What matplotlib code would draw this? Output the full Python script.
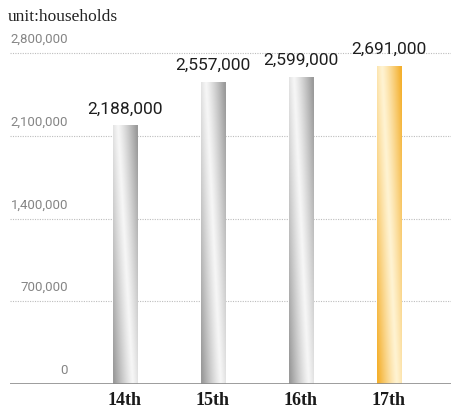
import numpy as np
import matplotlib
matplotlib.use("Agg")
import matplotlib.pyplot as plt
from matplotlib.colors import LinearSegmentedColormap
from matplotlib.ticker import FuncFormatter

# 데이터
rounds = ["14th", "15th", "16th", "17th"]
households = [2188000, 2557000, 2599000, 2691000]
yticks = [0, 700000, 1400000, 2100000, 2800000]
unit_label = "unit:households"

W, H = 452, 413
fig = plt.figure(figsize=(W / 100, H / 100), dpi=100)

# axes in pixel coordinates: baseline at y=384, x from 10 to 452
base_px, top_grid_px = 384, 53
ax = fig.add_axes([10 / W, (H - base_px) / H, (W - 10) / W, base_px / H])
px_per_val = (base_px - top_grid_px) / 2800000
x0_px, step_px = 125, 88
ax.axis("off")

# 그리드
for v in yticks[1:]:
    ax.axhline(v, color="#bdbdbd", lw=0.8, ls=(0, (1, 1.2)), zorder=1)
ax.axhline(0, color="#8c8c8c", lw=1.2, zorder=4)

# y tick labels sitting above the grid lines
fmt = FuncFormatter(lambda v, p: f"{int(v):,}")
lab_x = (68 - x0_px) / step_px
for v in yticks:
    ax.text(lab_x, v + 7 / px_per_val, fmt(v), ha="right", va="bottom",
            fontsize=9.5, color="#858585", family="Roboto")

gray = LinearSegmentedColormap.from_list("g", ["#f6f6f6", "#9a9a9a"])
orange = LinearSegmentedColormap.from_list("o", ["#fff3d2", "#f4b02e"])

bw = 25 / step_px
nx, ny = 60, 200
tx = np.linspace(0, 1, nx)
ty = np.linspace(0, 1, ny)[:, None]
h = 0.8 - 0.6 * ty  # highlight drifts left going up
shade = np.clip(np.abs(tx[None, :] - h) / 0.75, 0, 1) ** 1.2

for i, (name, val) in enumerate(zip(rounds, households)):
    cmap = orange if i == len(rounds) - 1 else gray
    rect = ax.bar(i, val, width=bw, color="none", zorder=2)[0]
    im = ax.imshow(shade, cmap=cmap, vmin=0, vmax=1, origin="lower",
                   extent=(i - bw / 2, i + bw / 2, 0, val), aspect="auto",
                   interpolation="bilinear", zorder=2)
    im.set_clip_path(rect)
    ax.text(i, val + 9 / px_per_val, f"{val:,}", ha="center", va="bottom",
            fontsize=12.5, color="#1e1e1e", family="Roboto")
    ax.text(i, -8 / px_per_val, name, ha="center", va="top",
            fontsize=13, fontweight="bold", family="Liberation Serif",
            color="#1a1a1a", clip_on=False)

ax.set_xlim((10 - x0_px) / step_px, (W - x0_px) / step_px)
ax.set_ylim(0, base_px / px_per_val)

fig.text(8 / W, 1 - 17 / H, unit_label, ha="left", va="center",
         fontsize=12.5, family="Liberation Serif", color="#222222")

fig.savefig("out.png", dpi=100)
